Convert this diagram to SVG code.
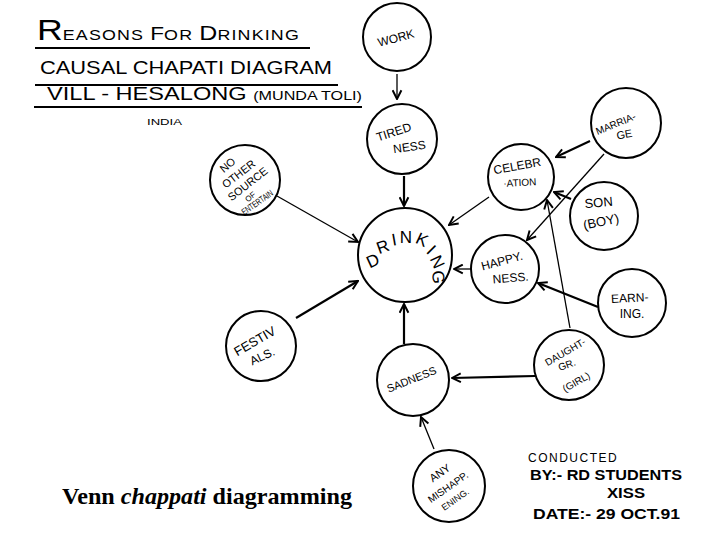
<svg xmlns="http://www.w3.org/2000/svg" width="720" height="540" viewBox="0 0 720 540">
<style>
.c{fill:none;stroke:#000;stroke-width:2}
.a{stroke:#000;stroke-width:1.3;fill:none;marker-end:url(#ah)}
.ab{stroke:#000;stroke-width:2.2;fill:none;marker-end:url(#ah)}
.t{font-family:"Liberation Sans",Arial,sans-serif;fill:#000;text-anchor:middle}
.h{font-family:"Liberation Sans",Arial,sans-serif;fill:#000}
.u{stroke:#000;stroke-width:1.8}
.dl{dominant-baseline:central}
</style>
<defs>
<marker id="ah" markerUnits="userSpaceOnUse" viewBox="0 0 10 10" refX="9" refY="5" markerWidth="11" markerHeight="11" orient="auto">
<path d="M1,1 L9,5 L1,9" fill="none" stroke="#000" stroke-width="1.8"/>
</marker>
</defs>
<rect width="720" height="540" fill="#fff"/>

<g id="title">
<text class="h" x="37" y="40" textLength="263" lengthAdjust="spacingAndGlyphs"><tspan font-size="30">R</tspan><tspan font-size="15" letter-spacing="1">EASONS </tspan><tspan font-size="19">F</tspan><tspan font-size="15" letter-spacing="1">OR </tspan><tspan font-size="21">D</tspan><tspan font-size="15" letter-spacing="1">RINKING</tspan></text>
<line class="u" x1="35" y1="48" x2="310" y2="48"/>
<text class="h" x="40" y="74" font-size="18" textLength="292" lengthAdjust="spacingAndGlyphs">CAUSAL CHAPATI DIAGRAM</text>
<line class="u" x1="35" y1="85" x2="338" y2="85"/>
<text class="h" x="47" y="100" textLength="315" lengthAdjust="spacingAndGlyphs"><tspan font-size="19">VILL - HESALONG </tspan><tspan font-size="13">(MUNDA TOLI)</tspan></text>
<line class="u" x1="34" y1="107" x2="362" y2="107"/>
<text class="h" x="147" y="125" font-size="9" textLength="35" lengthAdjust="spacingAndGlyphs">INDIA</text>
</g>

<g id="connectors">
<line class="a" x1="397" y1="74" x2="397" y2="99"/>
<line class="ab" x1="404" y1="176" x2="404" y2="206"/>
<line class="a" x1="277" y1="196" x2="358" y2="242"/>
<line class="a" x1="489" y1="197" x2="449" y2="225"/>
<line class="a" x1="472" y1="269" x2="454" y2="269"/>
<line class="ab" x1="296" y1="318" x2="358" y2="281"/>
<line class="ab" x1="404" y1="344" x2="404" y2="304"/>
<line class="ab" x1="535" y1="376" x2="452" y2="378"/>
<line class="a" x1="434" y1="449" x2="421" y2="417"/>
<line class="ab" x1="590" y1="141" x2="556" y2="157"/>
<line class="a" x1="604" y1="154" x2="527" y2="240"/>
<line class="ab" x1="571" y1="199" x2="554" y2="192"/>
<line class="a" x1="570" y1="328" x2="547" y2="200"/>
<line class="ab" x1="598" y1="307" x2="538" y2="283"/>
</g>

<g id="work">
<circle class="c" cx="397" cy="37" r="34"/>
<text class="t" font-size="12" transform="translate(397,42) rotate(-15)">WORK</text>
</g>
<g id="tiredness">
<circle class="c" cx="402" cy="139" r="35"/>
<text class="t" font-size="12" transform="translate(395,136) rotate(-18)">TIRED</text>
<text class="t" font-size="12" transform="translate(410,151) rotate(-8)">NESS</text>
</g>
<g id="drinking">
<circle class="c" cx="405" cy="255" r="47"/>
<g font-size="17" class="t dl">
<text transform="translate(373,261) rotate(-25)">D</text>
<text transform="translate(383,247) rotate(-20)">R</text>
<text transform="translate(394,240) rotate(-10)">I</text>
<text transform="translate(406,237)">N</text>
<text transform="translate(422,240) rotate(25)">K</text>
<text transform="translate(431,250) rotate(45)">I</text>
<text transform="translate(437,262) rotate(65)">N</text>
<text transform="translate(438,277) rotate(85)">G</text>
</g>
</g>
<g id="no-other-source">
<circle class="c" cx="245" cy="180" r="35"/>
<g class="t" font-size="11">
<text transform="translate(230,168) rotate(-40)">NO</text>
<text transform="translate(241,177) rotate(-38)">OTHER</text>
<text transform="translate(250,187) rotate(-38)">SOURCE</text>
<text font-size="8" transform="translate(252,199) rotate(-38)">OF</text>
<text font-size="9" transform="translate(259,205) rotate(-35)" textLength="36" lengthAdjust="spacingAndGlyphs">ENTERTAIN</text>
</g>
</g>
<g id="celebration">
<circle class="c" cx="521" cy="177" r="33"/>
<text class="t" font-size="12" transform="translate(518,170) rotate(-10)">CELEBR</text>
<text class="t" font-size="10" transform="translate(520,186) rotate(-3)">·ATION</text>
</g>
<g id="marriage">
<circle class="c" cx="626" cy="123" r="35"/>
<text class="t" font-size="10" transform="translate(617,127) rotate(-22)">MARRIA-</text>
<text class="t" font-size="11" transform="translate(625,138) rotate(-10)">GE</text>
</g>
<g id="son">
<circle class="c" cx="604" cy="216" r="34"/>
<text class="t" font-size="13" transform="translate(599,207) rotate(-5)">SON</text>
<text class="t" font-size="13" transform="translate(602,226) rotate(-12)">(BOY)</text>
</g>
<g id="happyness">
<circle class="c" cx="505" cy="269" r="34"/>
<text class="t" font-size="12" transform="translate(503,265) rotate(-15)">HAPPY.</text>
<text class="t" font-size="12" transform="translate(511,282) rotate(-5)">NESS.</text>
</g>
<g id="earning">
<circle class="c" cx="632" cy="303" r="34"/>
<text class="t" font-size="12" transform="translate(630,302) rotate(-3)">EARN-</text>
<text class="t" font-size="12" transform="translate(632,318)">ING.</text>
</g>
<g id="festivals">
<circle class="c" cx="261" cy="346" r="35"/>
<text class="t" font-size="13" transform="translate(257,345) rotate(-30)">FESTIV</text>
<text class="t" font-size="12" transform="translate(264,360) rotate(-25)">ALS.</text>
</g>
<g id="sadness">
<circle class="c" cx="413" cy="380" r="36"/>
<text class="t" font-size="11" transform="translate(413,383) rotate(-22)">SADNESS</text>
</g>
<g id="daughter">
<circle class="c" cx="569" cy="365" r="35"/>
<text class="t" font-size="10" transform="translate(567,355) rotate(-30)">DAUGHT-</text>
<text class="t" font-size="10" transform="translate(568,368) rotate(-20)">GR.</text>
<text class="t" font-size="10" transform="translate(578,385) rotate(-30)">(GIRL)</text>
</g>
<g id="mishappening">
<circle class="c" cx="449" cy="486" r="36"/>
<text class="t" font-size="11" transform="translate(442,476) rotate(-35)">ANY</text>
<text class="t" font-size="10" transform="translate(450,490) rotate(-35)">MISHAPP.</text>
<text class="t" font-size="9" transform="translate(457,502) rotate(-35)">ENING.</text>
</g>

<g id="notes">
<text class="h" x="528" y="462" font-size="12" letter-spacing="1.5">CONDUCTED</text>
<text class="h" x="530" y="480" font-size="14" font-weight="bold" textLength="152" lengthAdjust="spacingAndGlyphs">BY:- RD STUDENTS</text>
<text class="h" x="607" y="498" font-size="14" font-weight="bold" textLength="38" lengthAdjust="spacingAndGlyphs">XISS</text>
<text class="h" x="533" y="519" font-size="14" font-weight="bold" textLength="147" lengthAdjust="spacingAndGlyphs">DATE:- 29 OCT.91</text>
<text x="62" y="504" font-family="'Liberation Serif','Times New Roman',serif" font-size="24" font-weight="bold" textLength="290" lengthAdjust="spacingAndGlyphs">Venn <tspan font-style="italic">chappati</tspan> diagramming</text>
</g>
</svg>
